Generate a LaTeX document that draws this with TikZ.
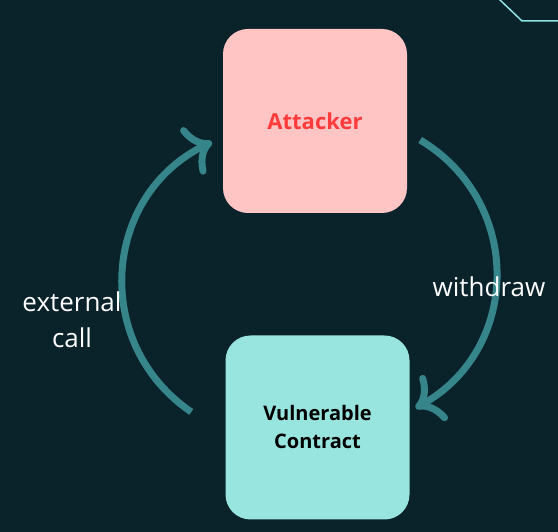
\documentclass[tikz,border=0pt]{standalone}
\usepackage{fontspec}
\setmainfont{Open Sans}
\usepackage{xcolor}
\usepackage{tikz}
\usetikzlibrary{arrows.meta}
\definecolor{bgdark}{HTML}{0A2229}
\definecolor{attackerpink}{HTML}{FFC5C5}
\definecolor{attackerred}{HTML}{FF3B3B}
\definecolor{contractcyan}{HTML}{98E4DE}
\definecolor{flowteal}{HTML}{35858A}
\definecolor{trimcyan}{HTML}{8EE3E3}
\tikzset{
    box/.style={rounded corners=25pt, minimum width=184pt, minimum height=184pt, align=center},
    flow/.style={draw=flowteal, line width=7pt, -{Computer Modern Rightarrow[length=24pt, width=52pt]}},
    lbl/.style={text=white, font=\fontsize{26}{36}\selectfont, align=center},
    trim/.style={draw=trimcyan, line width=1.5pt},
}

\begin{document}
\begin{tikzpicture}[x=1pt, y=1pt]
    \fill[bgdark] (0,0) rectangle (558,532);
    \useasboundingbox (0,0) rectangle (558,532);
    \draw[trim] (499,533) -- (522,511) -- (559,511);

    \node[box, fill=attackerpink, text=attackerred, font=\bfseries\fontsize{22}{26}\selectfont] (attacker) at (315,411) {Attacker};
    \node[box, fill=contractcyan, text=black, font=\bfseries\fontsize{20}{28}\selectfont] (vuln) at (317.5,104.5) {Vulnerable\\Contract};

    % arcs between the two boxes
    \draw[flow] ([shift={(-34,15.5)}]vuln.west) to[bend left=60, looseness=1.15] ([shift={(-11,-21)}]attacker.west);
    \draw[flow] ([shift={(13,-19)}]attacker.east) to[bend left=60, looseness=1.15] ([shift={(6,19.5)}]vuln.east);

    \node[lbl] (extcall) at (72,212) {external\\call};
    \node[lbl] (withdraw) at (489,245) {withdraw};
\end{tikzpicture}
\end{document}
